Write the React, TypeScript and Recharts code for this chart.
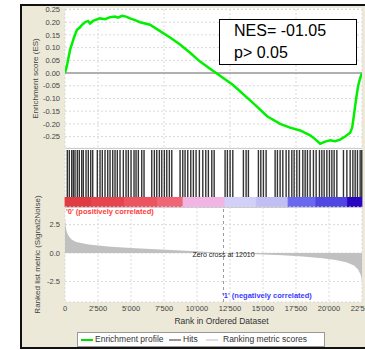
import React from 'react';
import {
  LineChart,
  Line,
  AreaChart,
  Area,
  BarChart,
  Bar,
  ComposedChart,
  XAxis,
  YAxis,
  CartesianGrid,
  ReferenceLine,
} from 'recharts';

const FONT = '"Liberation Sans", Arial, sans-serif';

// ---------- data ----------
const rankTicks = [0, 2500, 5000, 7500, 10000, 12500, 15000, 17500, 20000, 22500];
const esTicks = [-0.25, -0.2, -0.15, -0.1, -0.05, 0, 0.05, 0.1, 0.15, 0.2, 0.25];
const metricTicks = [-2.5, 0, 2.5];

const esRanks = [
  0, 150, 227, 379, 530, 682, 910, 1137, 1290, 1516, 1743, 1895, 2122, 2653, 3032, 3411, 3790,
  4017, 4320, 4624, 4927, 5306, 5685, 6443, 7201, 7959, 8717, 9475, 10233, 10991, 11449, 12734,
  13644, 14402, 15312, 16297, 17055, 17813, 18571, 18950, 19329, 19708, 20087, 20466, 20845,
  21224, 21603, 21755, 21906, 22058, 22209, 22361, 22500,
];
const esValues = [
  0, 0.03, 0.05, 0.09, 0.115, 0.14, 0.17, 0.18, 0.19, 0.2, 0.205, 0.195, 0.205, 0.215, 0.212,
  0.22, 0.222, 0.218, 0.225, 0.222, 0.215, 0.208, 0.2, 0.19, 0.165, 0.14, 0.112, 0.08, 0.045,
  0.017, 0, -0.047, -0.09, -0.125, -0.17, -0.2, -0.215, -0.226, -0.245, -0.26, -0.278, -0.27,
  -0.265, -0.268, -0.262, -0.25, -0.235, -0.215, -0.16, -0.1, -0.05, -0.02, 0,
];

const metricRanks = [
  0, 60, 150, 300, 500, 800, 1200, 1800, 2500, 3500, 5000, 6500, 8000, 10000, 12010, 13500,
  15000, 16500, 18000, 19500, 20500, 21300, 21900, 22200, 22400, 22500,
];
const metricValues = [
  3.0, 2.3, 1.8, 1.45, 1.2, 1.0, 0.88, 0.75, 0.66, 0.56, 0.45, 0.36, 0.28, 0.15, 0, -0.06,
  -0.12, -0.2, -0.3, -0.45, -0.6, -0.8, -1.1, -1.45, -1.9, -2.4,
];

const hitRanks = [
  174, 326, 508, 629, 758, 932, 1084, 1266, 1387, 1592, 1766, 1948, 2100, 2448, 2653, 2827, 3032,
  3237, 3411, 3616, 3790, 3964, 4169, 4419, 4624, 4798, 5003, 5230, 5382, 5556, 5814, 5988, 6572,
  6769, 6951, 7148, 7330, 7527, 7709, 7906, 8088, 8717, 8922, 9096, 9300, 9528, 9725, 9930,
  10180, 10438, 10665, 10862, 11120, 11300, 12128, 12302, 12507, 12712, 13515, 13720, 13894,
  14652, 14834, 15031, 15236, 15918, 16092, 16297, 16501, 16752, 16956, 17184, 17358, 17563,
  17760, 18017, 18192, 18366, 18571, 18821, 19026, 19276, 19458, 19632, 19837, 20034, 20216,
  20390, 20595, 21095, 21353, 21603, 21808, 21982, 22156, 22361, 22480,
];

const bandEdges = [0, 2000, 4500, 7000, 8944, 12128, 14500, 16900, 19000, 21400, 22500];
const bandColors = [
  '#e03a42', '#e6444e', '#ec5460', '#f06676', '#f2b4e2', '#d2d0f8', '#c0bef2', '#6a68f0',
  '#5046e2', '#2806c2',
];

const zeroCross = 12010;
const nesText = 'NES= -01.05';
const pText = 'p> 0.05';
const posLabel = "'0' (positively correlated)";
const negLabel = "'1' (negatively correlated)";
const legendLabels = ['Enrichment profile', 'Hits', 'Ranking metric scores'];

// ---------- helpers ----------
const fmtRank = (v: number) => String(v).replace(/\B(?=(\d{3})+(?!\d))/g, "'");
const tickStyle = { fontSize: 7.5, fill: '#444', fontFamily: FONT };

export default function App() {
  const esData = esRanks.map((r, i) => ({ rank: r, es: esValues[i] }));
  const metricData = metricRanks.map((r, i) => ({ rank: r, metric: metricValues[i] }));
  const hitData = hitRanks.map((r) => ({ rank: r, v: 0.5 }));
  const bandRow: Record<string, number | string> = { name: 'bar' };
  bandColors.forEach((_, i) => {
    bandRow['b' + i] = bandEdges[i + 1] - bandEdges[i];
  });
  const bandData = [bandRow];

  return (
    <div
      style={{
        position: 'absolute',
        left: 0,
        top: 0,
        width: 365,
        height: 350,
        overflow: 'hidden',
        background: '#fff',
        fontFamily: FONT,
      }}
    >
      {/* frame */}
      <div
        style={{
          position: 'absolute',
          left: 20,
          top: 4,
          width: 400,
          height: 345,
          boxSizing: 'border-box',
          border: '2px solid #111',
          background: '#ECE9D8',
        }}
      />
      {/* white plot background */}
      <div style={{ position: 'absolute', left: 65, top: 8, width: 297, height: 294, background: '#fff' }} />
      <div style={{ position: 'absolute', left: 65, top: 148, width: 297, height: 1, background: '#c8c8c8' }} />
      <div style={{ position: 'absolute', left: 65, top: 207, width: 297, height: 1, background: '#c8c8c8' }} />

      {/* Enrichment score panel */}
      <div style={{ position: 'absolute', left: 0, top: 0 }}>
        <LineChart width={365} height={150} data={esData} margin={{ top: 9, right: 3, bottom: 2, left: 0 }}>
          <CartesianGrid stroke="#dadada" strokeDasharray="2 2" />
          <XAxis dataKey="rank" type="number" domain={[0, 22500]} ticks={rankTicks} hide allowDataOverflow />
          <YAxis
            type="number"
            domain={[-0.295, 0.252]}
            ticks={esTicks}
            interval={0}
            width={65}
            allowDataOverflow
            tick={tickStyle}
            tickFormatter={(v: number) => v.toFixed(2)}
            tickLine={false}
            axisLine={false}
            tickSize={3}
            tickMargin={2}
            label={{
              value: 'Enrichment score (ES)',
              angle: -90,
              position: 'insideLeft',
              offset: 35,
              style: { fontSize: 8, fill: '#444', textAnchor: 'middle', fontFamily: FONT },
            }}
          />
          <ReferenceLine y={0} stroke="#b0b0b0" strokeWidth={2} />
          <Line
            dataKey="es"
            type="linear"
            stroke="#00f000"
            strokeWidth={2.5}
            dot={false}
            isAnimationActive={false}
          />
        </LineChart>
      </div>

      {/* Hits panel */}
      <div style={{ position: 'absolute', left: 0, top: 150 }}>
        <ComposedChart width={365} height={47} data={hitData} margin={{ top: 0, right: 3, bottom: 0, left: 65 }}>
          <CartesianGrid stroke="#dadada" strokeDasharray="2 2" horizontal={false} />
          <XAxis dataKey="rank" type="number" domain={[0, 22500]} ticks={rankTicks} hide />
          <YAxis type="number" domain={[0, 1]} hide />
          <Line dataKey="v" stroke="none" dot={false} isAnimationActive={false} />
          {hitRanks.map((r) => (
            <ReferenceLine key={r} x={r} stroke="#333" strokeWidth={1.4} />
          ))}
        </ComposedChart>
      </div>

      {/* color bar: stacked horizontal bar of rank bands */}
      <div style={{ position: 'absolute', left: 0, top: 197 }}>
        <BarChart
          width={365}
          height={10}
          data={bandData}
          layout="vertical"
          barCategoryGap={0}
          margin={{ top: 0, right: 3, bottom: 0, left: 65 }}
        >
          <XAxis type="number" domain={[0, 22500]} hide />
          <YAxis type="category" dataKey="name" hide />
          {bandColors.map((c, i) => (
            <Bar
              key={i}
              dataKey={'b' + i}
              stackId="s"
              fill={c}
              fillOpacity={1}
              stroke={c}
              strokeWidth={0.8}
              isAnimationActive={false}
            />
          ))}
        </BarChart>
      </div>

      {/* Ranked list metric panel (svg starts higher so the rotated title fits) */}
      <div style={{ position: 'absolute', left: 0, top: 150 }}>
        <AreaChart width={365} height={182} data={metricData} margin={{ top: 57, right: 3, bottom: 0, left: 0 }}>
          <CartesianGrid stroke="#dadada" strokeDasharray="2 2" />
          <XAxis
            dataKey="rank"
            type="number"
            domain={[0, 22500]}
            ticks={rankTicks}
            interval={0}
            height={30}
            tickFormatter={fmtRank}
            tick={tickStyle}
            tickLine={false}
            axisLine={false}
            tickSize={2}
            tickMargin={2}
            label={{
              value: 'Rank in Ordered Dataset',
              position: 'insideBottom',
              offset: 8,
              dx: 8,
              style: { fontSize: 8.5, fill: '#333', fontFamily: FONT },
            }}
          />
          <YAxis
            type="number"
            domain={[-4.3, 4.05]}
            ticks={metricTicks}
            interval={0}
            width={65}
            allowDataOverflow
            tick={tickStyle}
            tickFormatter={(v: number) => v.toFixed(1)}
            tickLine={false}
            axisLine={false}
            tickSize={3}
            tickMargin={2}
            label={{
              value: 'Ranked list metric (Signal2Noise)',
              angle: -90,
              position: 'insideLeft',
              offset: 37,
              style: { fontSize: 8, fill: '#444', textAnchor: 'middle', fontFamily: FONT },
            }}
          />
          <Area
            dataKey="metric"
            type="linear"
            stroke="none"
            fill="#c0c0c0"
            fillOpacity={1}
            baseValue={0}
            isAnimationActive={false}
          />
          <ReferenceLine
            x={zeroCross}
            stroke="#999"
            strokeDasharray="3 3"
            label={{
              value: `Zero cross at ${zeroCross}`,
              position: 'center',
              style: { fontSize: 7, fill: '#222', fontFamily: FONT },
            }}
          />
        </AreaChart>
      </div>

      {/* panel labels */}
      <div
        style={{
          position: 'absolute',
          left: 66,
          top: 207,
          fontSize: 7.5,
          fontWeight: 'bold',
          color: '#ff3a3a',
          whiteSpace: 'nowrap',
          lineHeight: '10px',
        }}
      >
        {posLabel}
      </div>
      <div
        style={{
          position: 'absolute',
          left: 222,
          top: 291,
          fontSize: 7.5,
          fontWeight: 'bold',
          color: '#3a3aff',
          whiteSpace: 'nowrap',
          lineHeight: '10px',
        }}
      >
        {negLabel}
      </div>

      {/* NES box */}
      <div
        style={{
          position: 'absolute',
          left: 219,
          top: 19,
          width: 138,
          height: 46,
          boxSizing: 'border-box',
          border: '1.5px solid #000',
          background: '#fff',
          fontSize: 16,
          lineHeight: '22px',
          paddingLeft: 14,
          color: '#000',
          whiteSpace: 'nowrap',
        }}
      >
        <div>{nesText}</div>
        <div>{pText}</div>
      </div>

      {/* legend */}
      <div
        style={{
          position: 'absolute',
          left: 77,
          top: 332,
          width: 248,
          height: 15,
          boxSizing: 'border-box',
          border: '1px solid #999',
          background: '#fff',
          fontSize: 8.5,
          color: '#333',
        }}
      >
        <div style={{ position: 'absolute', left: 3, top: 6, width: 12, height: 2, background: '#00e000' }} />
        <div style={{ position: 'absolute', left: 17, top: 1, lineHeight: '11px', whiteSpace: 'nowrap' }}>{legendLabels[0]}</div>
        <div style={{ position: 'absolute', left: 91, top: 6, width: 12, height: 1.5, background: '#999' }} />
        <div style={{ position: 'absolute', left: 105, top: 1, lineHeight: '11px', whiteSpace: 'nowrap' }}>{legendLabels[1]}</div>
        <div style={{ position: 'absolute', left: 128, top: 6, width: 12, height: 2, background: '#ddd' }} />
        <div style={{ position: 'absolute', left: 145, top: 1, lineHeight: '11px', whiteSpace: 'nowrap' }}>{legendLabels[2]}</div>
      </div>
    </div>
  );
}
